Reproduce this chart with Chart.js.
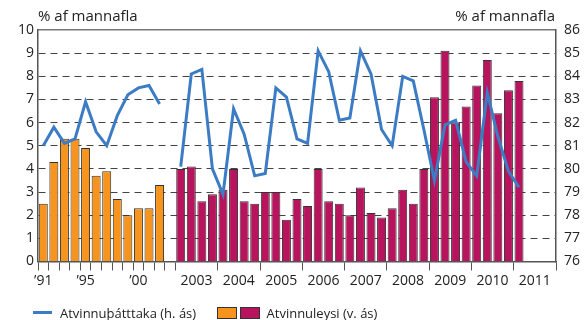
<!DOCTYPE html>
<html>
<head>
<meta charset="utf-8">
<script src="https://cdn.jsdelivr.net/npm/chart.js@4/dist/chart.umd.min.js"></script>
<style>
  body { margin: 0; background: #fff; }
  #wrap { position: relative; width: 586px; height: 320px; font-family: "Open Sans", sans-serif; color: #222; }
  .unit { position: absolute; top: 5px; font-size: 15px; line-height: 20px; }
  #legend { position: absolute; top: 302px; left: 33px; font-size: 13px; line-height: 18px; white-space: nowrap; }
  #legend span { display: inline-block; vertical-align: middle; }
  .lline { width: 19px; height: 3px; background: #3b7cc4; margin-right: 8px; }
  .lbox { width: 18px; height: 10px; border: 1px solid #333; margin-right: 3px; }
</style>
</head>
<body>
<div id="wrap">
  <canvas id="chart" width="586" height="320"></canvas>
  <div class="unit" style="left:38px">% af mannafla</div>
  <div class="unit" style="right:31px">% af mannafla</div>
  <div id="legend">
    <span class="lline"></span><span style="margin-right:17px">Atvinnuþátttaka (h. ás)</span>
    <span class="lbox" style="background:#f7941e"></span><span class="lbox" style="background:#b8145e;margin-right:7px"></span><span>Atvinnuleysi (v. ás)</span>
  </div>
</div>
<script>
// ársgögn 1991-2002
const annualYears = ['1991','1992','1993','1994','1995','1996','1997','1998','1999','2000','2001','2002'];
const annualUnemployment = [2.5, 4.3, 5.3, 5.3, 4.9, 3.7, 3.9, 2.7, 2.0, 2.3, 2.3, 3.3];
const annualParticipation = [81.0, 81.8, 81.1, 81.3, 82.9, 81.6, 81.0, 82.3, 83.2, 83.5, 83.6, 82.8];

// ársfjórðungsgögn 2003 F1 - 2011 F1
const quarterYears = ['2003','2004','2005','2006','2007','2008','2009','2010','2011'];
const quarterUnemployment = [
  4.0, 4.1, 2.6, 2.9,
  3.1, 4.0, 2.6, 2.5,
  3.0, 3.0, 1.8, 2.7,
  2.4, 4.0, 2.6, 2.5,
  2.0, 3.2, 2.1, 1.9,
  2.3, 3.1, 2.5, 4.0,
  7.1, 9.1, 6.0, 6.7,
  7.6, 8.7, 6.4, 7.4,
  7.8
];
const quarterParticipation = [
  80.1, 84.1, 84.3, 80.0,
  78.9, 82.6, 81.5, 79.7,
  79.8, 83.5, 83.1, 81.3,
  81.1, 85.1, 84.2, 82.1,
  82.2, 85.1, 84.1, 81.7,
  81.0, 84.0, 83.8, 81.7,
  79.5, 81.9, 82.1, 80.3,
  79.7, 83.3, 81.4, 79.9,
  79.2
];

// merkingar á x-ás
const shortYearLabels = { '1991': '\u201991', '1995': '\u201995', '2000': '\u201900' };

// flokkar: 12 ár, eitt autt bil, svo 4 ársfjórðungar á ári
const categories = annualYears.concat(['']);
quarterYears.forEach(y => { for (let q = 1; q <= 4; q++) categories.push(y + ' F' + q); });
const nQ = quarterYears.length * 4;
const firstQ = annualYears.length + 1;

const orangeData = annualUnemployment.concat(new Array(categories.length - annualYears.length).fill(null));
const redData = new Array(firstQ).fill(null).concat(quarterUnemployment, new Array(nQ - quarterUnemployment.length).fill(null));
const lineData = annualParticipation.concat([null], quarterParticipation, new Array(nQ - quarterParticipation.length).fill(null));

// staðsetning merkinga
const labelTicks = [];
Object.keys(shortYearLabels).forEach(y => labelTicks.push({ value: categories.indexOf(y), label: shortYearLabels[y] }));
quarterYears.forEach(y => labelTicks.push({ value: categories.indexOf(y + ' F1') + 1.5, label: y }));

const font = { family: '"Open Sans", sans-serif', size: 14 };

new Chart(document.getElementById('chart'), {
  type: 'bar',
  data: {
    labels: categories,
    datasets: [
      {
        type: 'line',
        label: 'Atvinnuþátttaka (h. ás)',
        data: lineData,
        yAxisID: 'y2',
        borderColor: '#3b7cc4',
        borderWidth: 3,
        pointRadius: 0,
        tension: 0,
        spanGaps: false,
        order: 0
      },
      {
        label: 'Atvinnuleysi',
        data: orangeData,
        backgroundColor: '#f7941e',
        borderColor: '#333',
        borderWidth: 1,
        grouped: false,
        barPercentage: 0.85,
        categoryPercentage: 1,
        order: 1
      },
      {
        label: 'Atvinnuleysi (v. ás)',
        data: redData,
        backgroundColor: '#b8145e',
        borderColor: '#333',
        borderWidth: 1,
        grouped: false,
        barPercentage: 0.85,
        categoryPercentage: 1,
        order: 1
      }
    ]
  },
  options: {
    responsive: false,
    animation: false,
    devicePixelRatio: 1,
    layout: { padding: { top: 30, bottom: 29.5, left: 0, right: 0 } },
    plugins: { legend: { display: false }, tooltip: { enabled: false } },
    scales: {
      x: {
        type: 'category',
        offset: true,
        ticks: { display: false, autoSkip: false },
        grid: {
          offset: true,
          drawOnChartArea: false,
          tickLength: 9,
          color: ctx => {
            const i = ctx.index;
            if (i === undefined || i <= firstQ || (i - firstQ) % 4 === 0) return '#555';
            return 'rgba(0,0,0,0)';
          }
        },
        border: { color: '#555', width: 1.5 },
        afterFit: s => { s.height = 9; }
      },
      x2: {
        type: 'linear',
        position: 'bottom',
        offset: false,
        bounds: 'data',
        min: -0.5,
        max: categories.length - 0.5,
        grid: { display: false, drawTicks: false, offset: false },
        border: { display: false },
        afterBuildTicks: s => { s.ticks = labelTicks.map(t => ({ value: t.value })); },
        ticks: {
          autoSkip: false,
          maxRotation: 0,
          padding: 2,
          color: '#222',
          font: font,
          callback: v => { const t = labelTicks.find(t => t.value === v); return t ? t.label : ''; }
        },
        afterFit: s => { s.height = 20; }
      },
      y: {
        position: 'left',
        min: 0,
        max: 10,
        z: 1,
        ticks: { stepSize: 1, padding: 4, color: '#222', font: font },
        grid: {
          drawTicks: false,
          color: ctx => (ctx.tick.value > 0 && ctx.tick.value < 10) ? '#444' : 'rgba(0,0,0,0)'
        },
        border: { color: '#555', width: 1.5, dash: [7, 5] },
        afterFit: s => { s.width = 38; }
      },
      y2: {
        position: 'right',
        min: 76,
        max: 86,
        ticks: { stepSize: 1, padding: 8, color: '#222', font: font },
        grid: {
          drawTicks: false,
          color: ctx => ctx.tick.value === 86 ? '#777' : 'rgba(0,0,0,0)',
          lineWidth: 1.5
        },
        border: { color: '#555', width: 1.5 },
        afterFit: s => { s.width = 30; }
      }
    }
  }
});
</script>
</body>
</html>
